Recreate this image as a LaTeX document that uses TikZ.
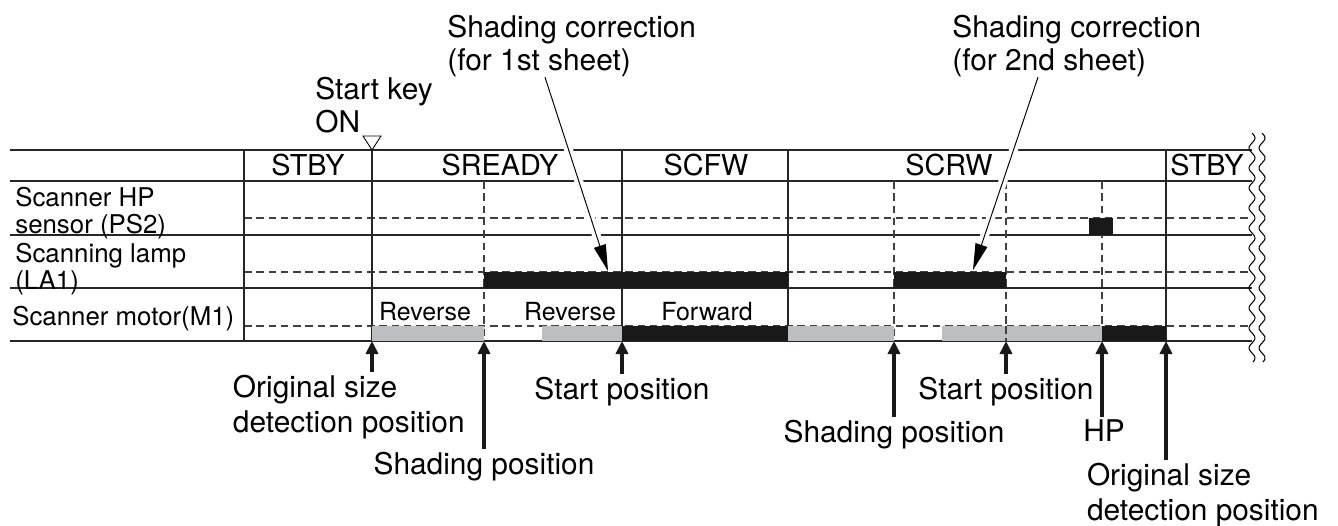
\documentclass[tikz,border=0pt]{standalone}
\usepackage{fontspec}
\setmainfont{TeX Gyre Heros}
\usetikzlibrary{arrows.meta,calc}
\definecolor{motorgray}{RGB}{188,190,193}

\begin{document}
\begin{tikzpicture}[x=0.02cm,y=-0.02cm,
    rowline/.style={line width=0.75pt, black!85},
    dashrow/.style={dash pattern=on 4.3pt off 2.7pt, line width=0.6pt, black!75},
    phase/.style={line width=1.5pt, black!85},
    onbar/.style={fill=black!90},
    graybar/.style={fill=motorgray},
    hdr/.style={font=\fontsize{16.4}{18}\selectfont, inner sep=0pt, anchor=base},
    sig/.style={font=\fontsize{14.7}{15.3}\selectfont, align=left, inner sep=0pt, anchor=north west},
    mot/.style={font=\fontsize{14.2}{16}\selectfont, inner sep=0pt, anchor=base},
    note/.style={font=\fontsize{17}{18.7}\selectfont, align=left, inner sep=0pt, anchor=north west},
    posnote/.style={font=\fontsize{17}{19.8}\selectfont, align=left, inner sep=1.5pt},
    posarrow/.style={-{Triangle[length=7.5pt,width=7pt]}, line width=2pt, black!90},
    leader/.style={-{Triangle[length=15pt,width=7pt]}, line width=0.55pt},
    halo/.style={draw=white, line width=5pt, shorten >=16pt}
]
\useasboundingbox (0,0) rectangle (1338,525);

% chart rows
\foreach \y in {150,181,235,288,341}
    \draw[rowline] (10,\y) -- (1252,\y);
\foreach \y in {218,272,326}
    \draw[dashrow] (244,\y) -- (1252,\y);
\draw[rowline] (244,150) -- (244,341);
\foreach \x in {484,894,1006,1102}
    \draw[dashrow] (\x,181) -- (\x,341);
\foreach \x in {372,622,788,1166}
    \draw[phase] (\x,150) -- (\x,341);

% break marks
\foreach \xo in {1252,1262}
    \draw[line width=0.6pt] plot[domain=133:362, samples=140, smooth] ({\xo+3*sin((\x-133)*18)},\x);

% start key mark
\draw[line width=0.5pt, fill=white] (363,136) -- (381,136) -- (372,150) -- cycle;

% labels
\node[hdr] (stby1) at (308,175) {STBY};
\node[hdr] (sready) at (500,175) {SREADY};
\node[hdr] (scfw) at (706,175) {SCFW};
\node[hdr] (scrw) at (949,175) {SCRW};
\node[hdr] (stby2) at (1207,175) {STBY};

\node[sig] (ps2) at (15,187) {Scanner HP\\sensor (PS2)};
\node[sig] (la1) at (15,243) {Scanning lamp\\(LA1)};
\node[sig] (m1) at (12,306) {Scanner motor(M1)};

\node[mot] (rev1) at (425,320) {Reverse};
\node[mot] (rev2) at (570,320) {Reverse};
\node[mot] (fwd) at (707,320) {Forward};

\node[note] (startkey) at (315,77) {Start key\\ON};
\node[note] (corr1) at (447,15) {Shading correction\\(for 1st sheet)};
\node[note] (corr2) at (952,15) {Shading correction\\(for 2nd sheet)};

% leaders
\coordinate (tip1) at (608,271);
\coordinate (tip2) at (973,270);
\draw[halo] ($(corr1.south west)+(98,0)$) -- (tip1);
\draw[halo] ($(corr2.south west)+(86,0)$) -- (tip2);

% signal bars
\fill[onbar] (1089,218) rectangle (1113,235);
\fill[onbar] (484,272) rectangle (788,288);
\fill[onbar] (894,272) rectangle (1006,288);
\fill[graybar] (372,326) rectangle (484,341);
\fill[graybar] (542,326) rectangle (622,341);
\fill[onbar] (622,326) rectangle (788,341);
\fill[graybar] (788,326) rectangle (894,341);
\fill[graybar] (942,326) rectangle (1102,341);
\fill[onbar] (1102,326) rectangle (1166,341);
\draw[dashrow] (1006,326) -- (1006,341);

\draw[leader] ($(corr1.south west)+(98,0)$) -- (tip1);
\draw[leader] ($(corr2.south west)+(86,0)$) -- (tip2);

% positions
\coordinate (p1) at (372,341);
\coordinate (p2) at (484,341);
\coordinate (p3) at (622,341);
\coordinate (p4) at (894,341);
\coordinate (p5) at (1006,341);
\coordinate (p6) at (1102,341);
\coordinate (p7) at (1166,341);

\node[posnote, anchor=north west] (orig1) at (230,372) {Original size\\detection position};
\node[posnote, anchor=north] (shpos1) at (484,449) {Shading position};
\node[posnote, anchor=north] (stpos1) at (622,374) {Start position};
\node[posnote, anchor=north] (shpos2) at (894,417) {Shading position};
\node[posnote, anchor=north] (stpos2) at (1006,374) {Start position};
\node[posnote, anchor=north] (hp) at (1104,417) {HP};
\node[posnote, anchor=north west] (orig2) at (1084,460) {Original size\\detection position};

\draw[posarrow] (p1 |- orig1.north) -- (p1);
\draw[posarrow] (shpos1) -- (p2);
\draw[posarrow] (stpos1) -- (p3);
\draw[posarrow] (shpos2) -- (p4);
\draw[posarrow] (stpos2) -- (p5);
\draw[posarrow] (p6 |- hp.north) -- (p6);
\draw[posarrow] (p7 |- orig2.north) -- (p7);
\end{tikzpicture}
\end{document}
